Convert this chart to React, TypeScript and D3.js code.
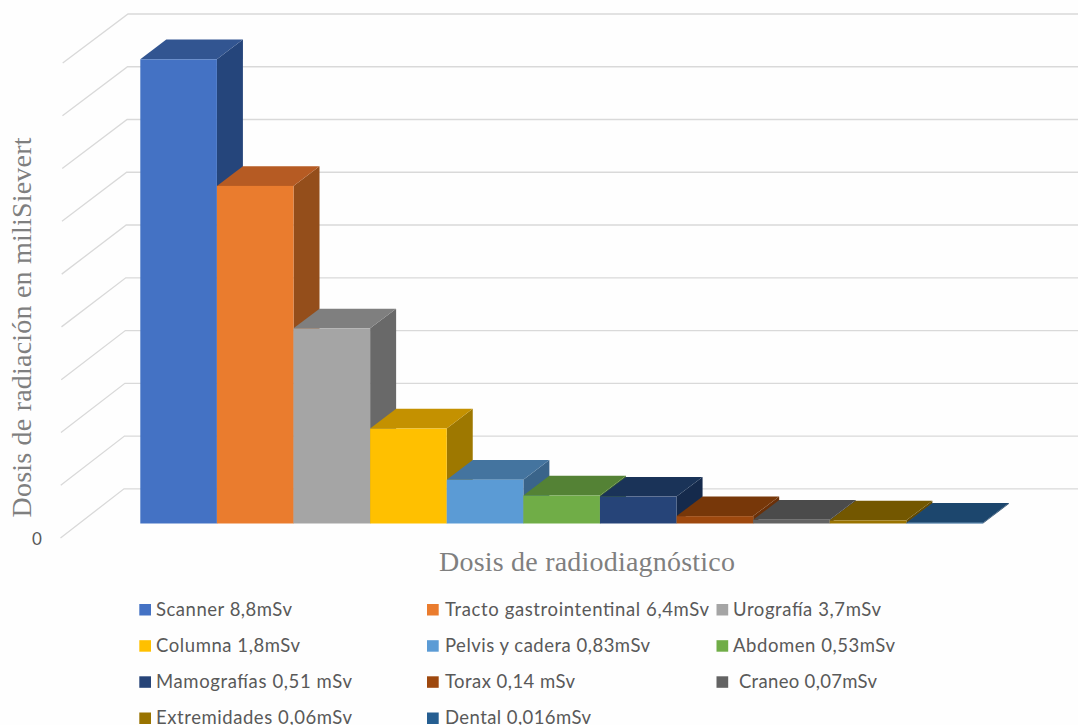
import React from "react";
import * as d3 from "d3";

// Radiation dose per diagnostic procedure, in millisievert
const procedures = ["Scanner", "Tracto gastrointentinal", "Urografía", "Columna", "Pelvis y cadera", "Abdomen", "Mamografías", "Torax", "Craneo", "Extremidades", "Dental"];
const doses = [8.8, 6.4, 3.7, 1.8, 0.83, 0.53, 0.51, 0.14, 0.07, 0.06, 0.016];
const legendLabels = [
  "Scanner 8,8mSv", "Tracto gastrointentinal 6,4mSv", "Urografía 3,7mSv",
  "Columna 1,8mSv", "Pelvis y cadera 0,83mSv", "Abdomen 0,53mSv",
  "Mamografías 0,51 mSv", "Torax 0,14 mSv", " Craneo 0,07mSv",
  "Extremidades 0,06mSv", "Dental 0,016mSv",
];
const gridLevels = [0, 1, 2, 3, 4, 5, 6, 7, 8, 9];
const frontColors = ["#4472C4", "#EA7C2E", "#A5A5A5", "#FFC000", "#5B9BD5", "#70AD47", "#264478", "#9E480E", "#636363", "#997300", "#255E91"];
const topColors = ["#325591", "#B65B23", "#7F7F7F", "#C49100", "#44749F", "#548235", "#1A3358", "#773709", "#4B4B4B", "#735700", "#1C466D"];
const sideColors = ["#25457B", "#944E1B", "#696969", "#9E7800", "#3A648A", "#47702E", "#152A4C", "#6B3008", "#404040", "#634A00", "#183C5E"];

// Drawn widths of the legend labels, which have uneven letter spacing
const legendWidths = [136, 264, 148, 144, 205, 162, 196, 130, 138, 196, 146];
const legendColumns = [
  { swatch: 139.3, text: 156 },
  { swatch: 427, text: 445 },
  { swatch: 716.5, text: 733 },
];
const legendRows = [615.5, 651.7, 687.8, 724];

const WIDTH = 1078;
const HEIGHT = 725;
const DEPTH_X = 26;
const DEPTH_Y = 19.7;
const FLOOR_Y = 523.5;
const UNIT = 52.75;

const y = d3.scaleLinear().domain([0, 9]).range([FLOOR_Y, FLOOR_Y - 9 * UNIT]);
const x = d3.scaleBand<string>().domain(procedures).range([140.3, 983]).padding(0);

// Grid wall: the back plane sits above the front corner of the floor
const backY = d3.scaleLinear().domain([0, 9]).range([488.8, 14]);
const backX = d3.scaleLinear().domain([0, 9]).range([124, 128]);
const frontY = d3.scaleLinear().domain([0, 9]).range([538, 63]);
const frontX = d3.scaleLinear().domain([0, 9]).range([60.5, 62.7]);

const polygon = (pts: [number, number][]) => (d3.line()(pts) ?? "") + "Z";

export default function App() {
  return (
    <svg width={WIDTH} height={HEIGHT} style={{ position: "absolute", left: 0, top: 0, background: "#fefefe" }}>
      <g stroke="#d9d9d9" strokeWidth={1.3} fill="none">
        {gridLevels.map((v) => (
          <path key={v} d={d3.line()([[frontX(v), frontY(v)], [backX(v), backY(v)], [WIDTH, backY(v)]]) ?? ""} />
        ))}
      </g>

      {procedures.map((name, i) => {
        const x0 = x(name)!;
        const x1 = x0 + x.bandwidth();
        const yTop = y(doses[i]);
        return (
          <g key={name}>
            <path fill={sideColors[i]} d={polygon([[x1, FLOOR_Y], [x1, yTop], [x1 + DEPTH_X, yTop - DEPTH_Y], [x1 + DEPTH_X, FLOOR_Y - DEPTH_Y]])} />
            <path fill={topColors[i]} d={polygon([[x0, yTop], [x0 + DEPTH_X, yTop - DEPTH_Y], [x1 + DEPTH_X, yTop - DEPTH_Y], [x1, yTop]])} />
            <rect x={x0} y={yTop} width={x.bandwidth()} height={FLOOR_Y - yTop} fill={frontColors[i]} />
          </g>
        );
      })}

      <text x={37} y={545} textAnchor="middle" fontFamily="Lato" fontSize={17} fill="#595959">0</text>

      <text x={587} y={571} textAnchor="middle" fontFamily="Liberation Serif" fontSize={28} fill="#7f7f7f" textLength={296}>
        Dosis de radiodiagnóstico
      </text>
      <text
        transform="translate(31,327.5) rotate(-90)"
        textAnchor="middle"
        fontFamily="Liberation Serif"
        fontSize={28}
        fill="#7f7f7f"
        textLength={380}
      >
        Dosis de radiación en miliSievert
      </text>

      {legendLabels.map((label, i) => {
        const col = legendColumns[i % 3];
        const base = legendRows[Math.floor(i / 3)];
        const indent = label.startsWith(" ") ? 6 : 0;
        return (
          <g key={label}>
            <rect x={col.swatch} y={base - 11.5} width={11.7} height={11.5} fill={frontColors[i]} />
            <text x={col.text + indent} y={base} fontFamily="Lato" fontSize={18.5} fill="#595959" textLength={legendWidths[i]} lengthAdjust="spacing">
              {label.trim()}
            </text>
          </g>
        );
      })}
    </svg>
  );
}
